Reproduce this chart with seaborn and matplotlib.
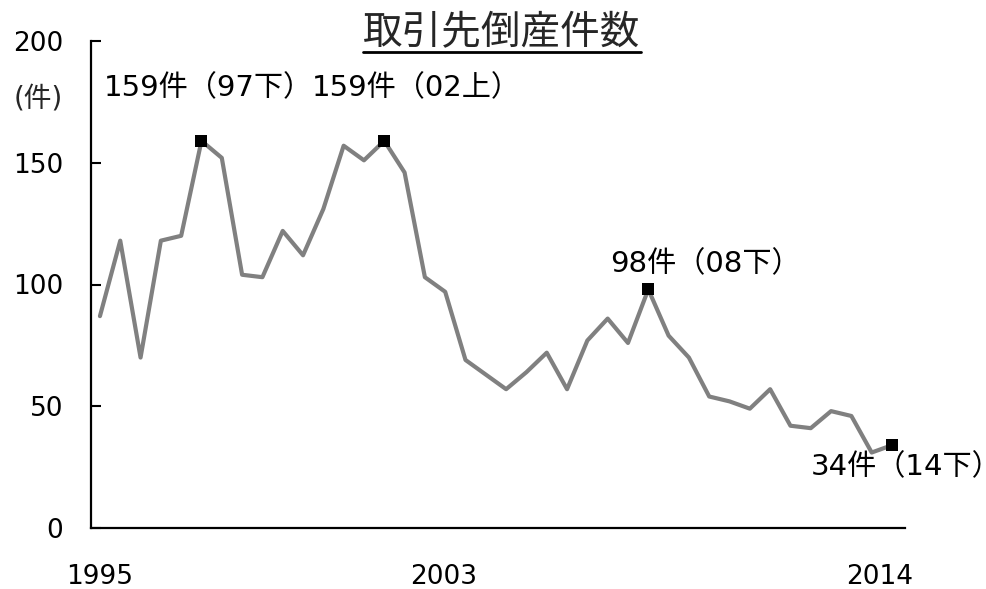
import numpy as np
import pandas as pd
import matplotlib
matplotlib.use("Agg")
import matplotlib.pyplot as plt
from matplotlib.lines import Line2D
import seaborn as sns

# ---- data (half-yearly, 1995上 .. 2014下) ----
counts = [87, 118, 70, 118, 120, 159, 152, 104, 103, 122,
          112, 131, 157, 151, 159, 146, 103, 97, 69, 63,
          57, 64, 72, 57, 77, 86, 76, 98, 79, 70,
          54, 52, 49, 57, 42, 41, 48, 46, 31, 34]
highlight_idx = [5, 14, 27, 39]
highlight_labels = ["159件（97下）", "159件（02上）", "98件（08下）", "34件（14下）"]
xtick_labels = ["1995", "2003", "2014"]
ytick_values = [0, 50, 100, 150, 200]
title = "取引先倒産件数"
unit_label = "(件)"

sns.set_style("white")
plt.rcParams["font.family"] = ["DejaVu Sans", "Noto Sans CJK JP"]

df = pd.DataFrame({"idx": np.arange(len(counts)), "count": counts})
hl = df.iloc[highlight_idx].copy()

fig = plt.figure(figsize=(9.87, 5.89), dpi=100)
W, H = 987, 589
ax = fig.add_axes([91 / W, 1 - 528 / H, (905 - 91) / W, (528 - 41) / H])

sns.lineplot(data=df, x="idx", y="count", ax=ax, color="#808080", linewidth=3.0)
sns.scatterplot(data=hl, x="idx", y="count", ax=ax, color="black", marker="s",
                s=85, edgecolor="black", linewidth=0, zorder=5)

ax.set_xlim(-0.44, 39.64)
ax.set_ylim(0, 200)
ax.set_xlabel("")
ax.set_ylabel("")
ax.set_yticks(ytick_values)
ax.set_yticklabels([str(v) for v in ytick_values])
ax.set_xticks([0, 16.9, 38.4])
ax.set_xticklabels(xtick_labels)

for s in ["top", "right"]:
    ax.spines[s].set_visible(False)
for s in ["left", "bottom"]:
    ax.spines[s].set_color("black")
    ax.spines[s].set_linewidth(1.6)

ax.tick_params(axis="y", direction="in", length=7, width=1.5, pad=20,
               labelsize=19, colors="black", left=True)
ax.tick_params(axis="x", length=0, pad=26, labelsize=19, colors="black")

# annotations (offsets in pixels relative to the point)
offsets = [(-98, 53), (-72, 53), (-38, 25), (-81, -22)]
for (i, lab), (dx, dy) in zip(zip(highlight_idx, highlight_labels), offsets):
    ax.annotate(lab, xy=(i, counts[i]), xytext=(dx, dy), textcoords="offset pixels",
                ha="left", va="center", fontsize=21, color="black")

fig.text(63 / W, 1 - 98 / H, unit_label, ha="right", va="center", fontsize=20,
         family=["DejaVu Sans", "Noto Sans CJK JP"])

t = fig.text(502 / W, 1 - 33 / H, title, ha="center", va="center", fontsize=28.5,
             family=["Noto Sans CJK JP"])

fig.canvas.draw()
bb = t.get_window_extent(renderer=fig.canvas.get_renderer())
y_line = (H - 52) / H
fig.add_artist(Line2D([bb.x0 / W, bb.x1 / W], [y_line, y_line],
                      transform=fig.transFigure, color="black", linewidth=2.0))

fig.savefig("out.png", dpi=100)
